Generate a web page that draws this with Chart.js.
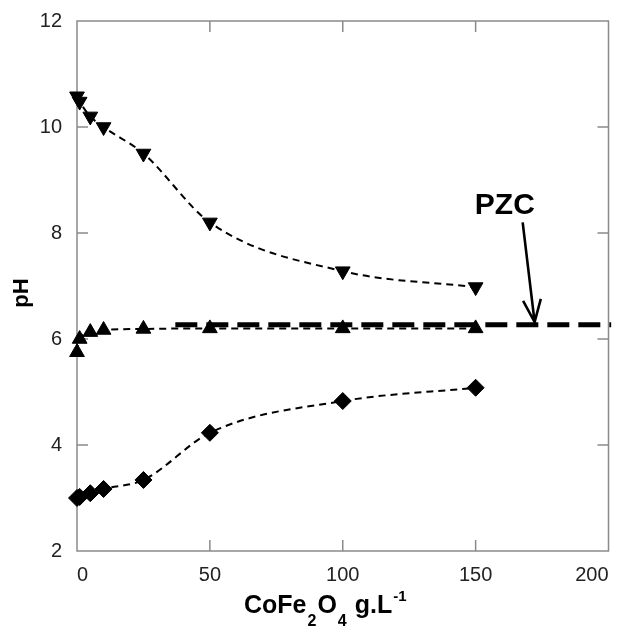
<!DOCTYPE html>
<html>
<head>
<meta charset="utf-8">
<script src="https://cdn.jsdelivr.net/npm/chart.js@4.4.1/dist/chart.umd.min.js"></script>
<style>
    html, body { margin: 0; padding: 0; background: #fff; }
    #wrap { width: 618px; height: 627px; }
</style>
</head>
<body>
<div id="wrap"><canvas id="phChart" width="618" height="627"></canvas></div>
<script>
// CoFe2O4 dose (g/L) and final pH for three starting pH values
const doseX = [0, 1, 5, 10, 25, 50, 100, 150];
const phBasic = [10.58, 10.48, 10.2, 10.0, 9.5, 8.2, 7.28, 6.98];
const phNeutral = [5.75, 6.0, 6.13, 6.17, 6.19, 6.2, 6.2, 6.2];
const phAcid = [3.0, 3.02, 3.09, 3.17, 3.34, 4.23, 4.83, 5.08];

// point of zero charge line
const pzcX = [37, 201];
const pzcValue = 6.27;
const pzcLabel = 'PZC';

const xTicks = [0, 50, 100, 150, 200];
const yTicks = [2, 4, 6, 8, 10, 12];

const FONT = '"Liberation Sans", Arial, sans-serif';
const AXIS_GREY = '#8a8a8a';

const toPoints = (xs, ys) => xs.map((x, i) => ({ x: x, y: ys[i] }));

const seriesStyle = (pointStyle, rotation, radius) => ({
    borderColor: '#000',
    backgroundColor: '#000',
    borderWidth: 2,
    borderDash: [7, 5],
    pointStyle: pointStyle,
    rotation: rotation,
    pointRadius: radius,
    pointBorderWidth: 1,
    cubicInterpolationMode: 'monotone',
    clip: false,
});

// frame and inward tick marks
const framePlugin = {
    id: 'frame',
    beforeDatasetsDraw(chart) {
        const { ctx, chartArea: a, scales: { x, y } } = chart;
        const len = 11;
        ctx.save();
        ctx.strokeStyle = AXIS_GREY;
        ctx.lineWidth = 1.5;
        ctx.strokeRect(a.left, a.top, a.right - a.left, a.bottom - a.top);
        ctx.beginPath();
        xTicks.slice(1, -1).forEach(v => {
            const px = x.getPixelForValue(v);
            ctx.moveTo(px, a.bottom); ctx.lineTo(px, a.bottom - len);
            ctx.moveTo(px, a.top); ctx.lineTo(px, a.top + len);
        });
        yTicks.slice(1, -1).forEach(v => {
            const py = y.getPixelForValue(v);
            ctx.moveTo(a.left, py); ctx.lineTo(a.left + len, py);
            ctx.moveTo(a.right, py); ctx.lineTo(a.right - len, py);
        });
        ctx.stroke();
        ctx.restore();
    },
    afterDraw(chart) {
        const { ctx, chartArea: a, scales: { x, y } } = chart;
        ctx.save();
        ctx.fillStyle = '#000';
        ctx.strokeStyle = '#000';

        // PZC label + arrow
        ctx.font = 'bold 30px ' + FONT;
        ctx.textAlign = 'center';
        ctx.textBaseline = 'alphabetic';
        ctx.fillText(pzcLabel, x.getPixelForValue(161), y.getPixelForValue(8.36));

        const tx = x.getPixelForValue(167.7), ty = y.getPixelForValue(8.2);
        const hx = x.getPixelForValue(172.2), hy = y.getPixelForValue(pzcValue + 0.05);
        const ang = Math.atan2(ty - hy, tx - hx);
        const wing = 24, spread = 0.38;
        ctx.lineWidth = 2.6;
        ctx.beginPath();
        ctx.moveTo(tx, ty); ctx.lineTo(hx, hy);
        ctx.moveTo(hx + Math.cos(ang + spread) * wing, hy + Math.sin(ang + spread) * wing);
        ctx.lineTo(hx, hy);
        ctx.lineTo(hx + Math.cos(ang - spread) * wing, hy + Math.sin(ang - spread) * wing);
        ctx.stroke();

        // y title
        ctx.save();
        ctx.translate(22, (a.top + a.bottom) / 2 + 7);
        ctx.rotate(-Math.PI / 2);
        ctx.font = 'bold 22px ' + FONT;
        ctx.textBaseline = 'middle';
        ctx.fillText('pH', 0, 0);
        ctx.restore();

        // x title with sub/superscripts
        const parts = [
            { t: 'CoFe', size: 25, dy: 0 },
            { t: '2', size: 16, dy: 13 },
            { t: 'O', size: 25, dy: 0 },
            { t: '4', size: 16, dy: 13 },
            { t: ' g.L', size: 25, dy: 0 },
            { t: '-1', size: 15, dy: -12 },
        ];
        ctx.textAlign = 'left';
        ctx.textBaseline = 'alphabetic';
        let total = 0;
        parts.forEach(p => {
            ctx.font = 'bold ' + p.size + 'px ' + FONT;
            p.w = ctx.measureText(p.t).width + (p.size < 20 ? 2 : 0);
            total += p.w;
        });
        let cx = (a.left + a.right) / 2 - 17 - total / 2;
        const base = chart.height - 14;
        parts.forEach(p => {
            ctx.font = 'bold ' + p.size + 'px ' + FONT;
            ctx.fillText(p.t, cx + (p.size < 20 ? 1 : 0), base + p.dy);
            cx += p.w;
        });
        ctx.restore();
    }
};

const ctx = document.getElementById('phChart').getContext('2d');

new Chart(ctx, {
    type: 'line',
    data: {
        datasets: [
            Object.assign({ label: 'pH initial 11', data: toPoints(doseX, phBasic) }, seriesStyle('triangle', 180, 8.5)),
            Object.assign({ label: 'pH initial 6', data: toPoints(doseX, phNeutral) }, seriesStyle('triangle', 0, 8.5)),
            Object.assign({ label: 'pH initial 3', data: toPoints(doseX, phAcid) }, seriesStyle('rectRot', 0, 8.5)),
            {
                label: 'PZC',
                data: pzcX.map(x => ({ x: x, y: pzcValue })),
                borderColor: '#000',
                borderWidth: 5,
                borderDash: [22, 9],
                pointRadius: 0,
                clip: false,
            },
        ],
    },
    options: {
        responsive: false,
        animation: false,
        layout: { padding: { top: 21, right: 7, left: 0, bottom: 0 } },
        plugins: {
            legend: { display: false },
            tooltip: { enabled: false },
        },
        scales: {
            x: {
                type: 'linear',
                min: 0,
                max: 200,
                afterBuildTicks: s => { s.ticks = xTicks.map(v => ({ value: v })); },
                afterFit: s => { s.height = 76; s.paddingLeft = 0; s.paddingRight = 0; },
                grid: { display: false },
                border: { display: false },
                ticks: {
                    align: 'inner',
                    padding: 4,
                    color: '#222',
                    font: { family: FONT, size: 20 },
                    maxRotation: 0,
                },
            },
            y: {
                type: 'linear',
                min: 2,
                max: 12,
                afterBuildTicks: s => { s.ticks = yTicks.map(v => ({ value: v })); },
                afterFit: s => { s.width = 77; s.paddingTop = 0; s.paddingBottom = 0; },
                grid: { display: false },
                border: { display: false },
                ticks: {
                    padding: 7,
                    color: '#222',
                    font: { family: FONT, size: 20 },
                },
            },
        },
    },
    plugins: [framePlugin],
});
</script>
</body>
</html>
